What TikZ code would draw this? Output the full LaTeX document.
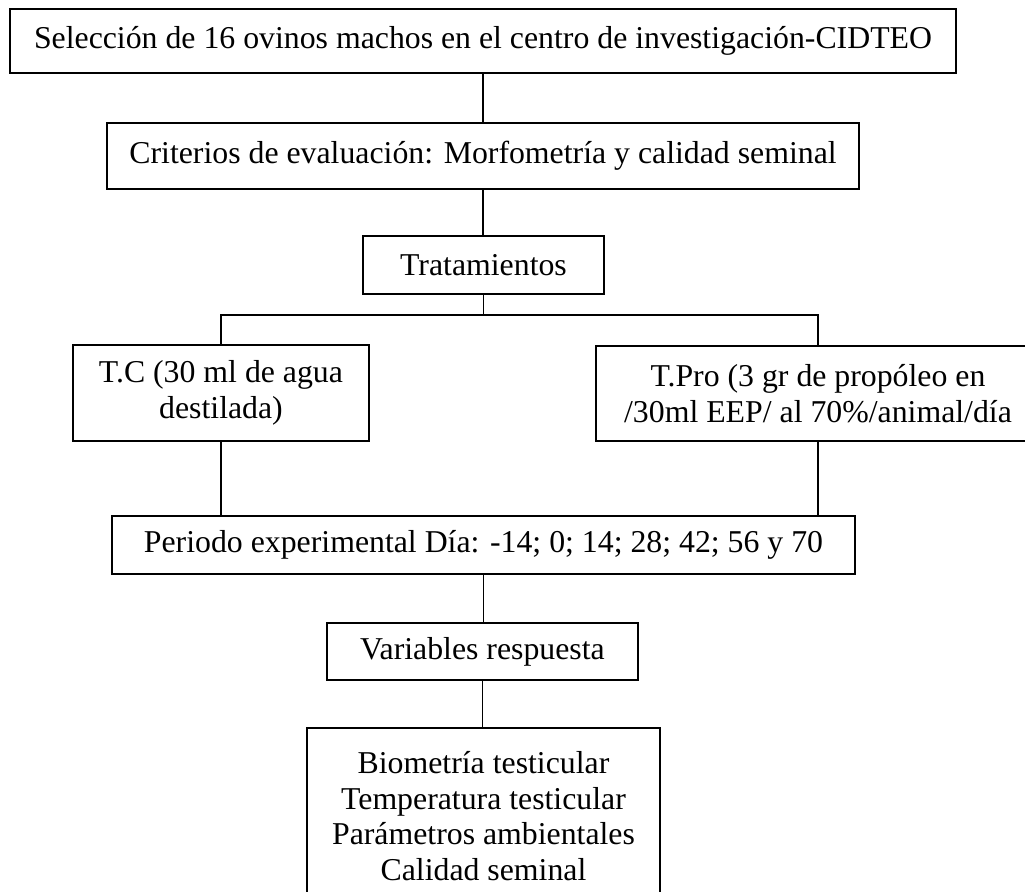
\documentclass[tikz,border=0pt]{standalone}
\usepackage{fontspec}
\setmainfont{Liberation Serif}
\def\pxu{0.3774pt}
\tikzset{
  box/.style={draw=black, line width=0.6pt, inner sep=0pt, align=center,
    font=\fontsize{12}{13.4}\selectfont},
  heavybox/.style={box, line width=0.8pt},
  link/.style={draw=black, line width=0.6pt}
}
\begin{document}
\begin{tikzpicture}[x=0.3774pt,y=-0.3774pt]
\useasboundingbox (0,0) rectangle (1025,892);
\clip (0,0) rectangle (1025,892);
\fill[white] (0,0) rectangle (1025,892);
\node[heavybox, minimum width={946*\pxu}, minimum height={64*\pxu}] (b1) at (483,41)
  {Selección de 16 ovinos machos en el centro de investigación-CIDTEO};
\node[heavybox, minimum width={752*\pxu}, minimum height={66*\pxu}] (b2) at (483,156)
  {Criterios de evaluación: Morfometría y calidad seminal};
\node[box, minimum width={241*\pxu}, minimum height={58*\pxu}] (b3) at (483.5,265)
  {Tratamientos};
\node[box, minimum width={296*\pxu}, minimum height={96*\pxu}] (b4) at (221,393)
  {T.C (30 ml de agua\\destilada)};
\node[box, minimum width={444*\pxu}, minimum height={95*\pxu}] (b5) at (818,393.5)
  {T.Pro (3 gr de propóleo en\\/30ml EEP/ al 70\%/animal/día};
\node[box, minimum width={743*\pxu}, minimum height={58*\pxu}] (b6) at (483.5,545)
  {Periodo experimental Día: -14; 0; 14; 28; 42; 56 y 70};
\node[box, minimum width={311*\pxu}, minimum height={57*\pxu}] (b7) at (482.5,651.5)
  {Variables respuesta};
\node[box, minimum width={353*\pxu}, minimum height={176*\pxu}] (b8) at (483.5,816)
  {Biometría testicular\\Temperatura testicular\\Parámetros ambientales\\Calidad seminal};
\coordinate (hy) at (483,315);
\draw[link] (b1.south) -- (b1.south |- b2.north);
\draw[link] (b2.south) -- (b2.south |- b3.north);
\draw[link] (b3.south) -- (b3.south |- hy);
\draw[link] (b4.north) -- (b4.north |- hy) -- (b5.north |- hy) -- (b5.north);
\draw[link] (b4.south) -- (b4.south |- b6.north);
\draw[link] (b5.south) -- (b5.south |- b6.north);
\draw[link] (b6.south) -- (b6.south |- b7.north);
\draw[link] (b7.south) -- (b7.south |- b8.north);
\end{tikzpicture}
\end{document}
